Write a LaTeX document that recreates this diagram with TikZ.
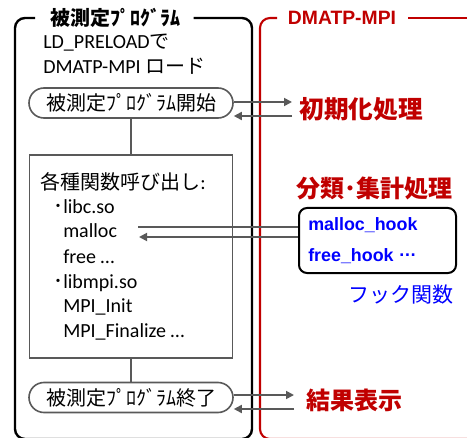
\documentclass[tikz,border=0pt]{standalone}
\usepackage{fontspec}
\setmainfont{Carlito}
\newfontfamily\jp{Noto Sans CJK JP}
\newfontfamily\lat{Liberation Sans}
\usetikzlibrary{arrows.meta,shapes.misc}
\definecolor{dred}{HTML}{C00000}
\definecolor{gline}{HTML}{595959}
\definecolor{hblue}{HTML}{0000FF}
\begin{document}
\begin{tikzpicture}[x=0.75pt,y=-0.75pt,
  frame/.style={line width=1.8pt, rounded corners=7.5pt},
  redframe/.style={dred, line width=1.6pt, rounded corners=7.5pt},
  conn/.style={gline, line width=1.3pt},
  arr/.style={conn, -{Triangle[length=6pt,width=6pt]}},
  stadium/.style={rounded rectangle, draw=gline, line width=1.2pt, minimum width=204*0.75pt, minimum height=30*0.75pt, inner sep=0pt, font=\jp\fontsize{15}{18}\selectfont},
  txt/.style={inner sep=0pt, anchor=base west, font=\fontsize{15}{18}\selectfont},
  redlab/.style={inner sep=0pt, text=dred, font=\jp\bfseries\fontsize{18}{20}\selectfont},
  bluetxt/.style={inner sep=0pt, anchor=base west, text=hblue, font=\lat\bfseries\fontsize{13.4}{16}\selectfont}
]
\useasboundingbox (0,0) rectangle (467,438);
\clip (0,0) rectangle (467,438);

% titles and frames
\node[inner sep=0pt, font=\jp\bfseries\fontsize{15}{18}\selectfont] (t1) at (115,18) {被測定ﾌﾟﾛｸﾞﾗﾑ};
\draw[frame] ([xshift=-11pt]t1.west) -- (15,18) -- (15,439) -- (252,439) -- (252,18) -- ([xshift=10pt]t1.east);
\node[inner sep=0pt, text=dred, font=\lat\bfseries\fontsize{14.5}{16}\selectfont] (t2) at (342,18) {DMATP-MPI};
\draw[redframe] ([xshift=-8pt]t2.west) -- (260,18) -- (260,439) -- (480,439);
\draw[redframe] ([xshift=9pt]t2.east) -- (470,18);

% left texts
\node[txt] (l1) at (43,49) {LD\_PRELOAD{\jp で}};
\node[txt] (l2) at (43,74) {DMATP-MPI {\jp ロード}};

% start / end
\node[stadium] (s) at (131,103) {被測定ﾌﾟﾛｸﾞﾗﾑ開始};
\node[draw=gline, line width=1.2pt, minimum width=203*0.75pt, minimum height=203*0.75pt, inner sep=0pt] (box) at (131,256.5) {};
\node[stadium] (e) at (131,397.5) {被測定ﾌﾟﾛｸﾞﾗﾑ終了};
\draw[conn] (s.south) -- (box.north);
\draw[conn] (box.south) -- (e.north);

% box content
\node[txt] (b1) at (40,190) {{\jp 各種関数呼び出し}:};
\node[txt] (b2) at (53,214) {{\jp ･}libc.so};
\node[txt] (b3) at (63,238) {malloc};
\node[txt] (b4) at (63,263) {free …};
\node[txt] (b5) at (53,288) {{\jp ･}libmpi.so};
\node[txt] (b6) at (63,312) {MPI\_Init};
\node[txt] (b7) at (63,337) {MPI\_Finalize …};

% right side
\node[redlab, font=\jp\bfseries\fontsize{18.5}{20}\selectfont] (init) at (361,109) {初期化処理};
\node[redlab] (agg) at (374,188) {分類･集計処理};
\node[redlab] (res) at (354,400) {結果表示};

\node[draw=black, line width=1.5pt, rounded corners=6pt, minimum width=157*0.75pt, minimum height=65*0.75pt, inner sep=0pt] (hook) at (377.5,240.5) {};
\node[bluetxt] (h1) at (308,230) {malloc\_hook};
\node[bluetxt] (h2) at (308,262) {free\_hook \raisebox{0.28em}{…}};
\node[inner sep=0pt, text=hblue, font=\jp\fontsize{15.75}{18}\selectfont] (hk) at (401,295) {フック関数};

% arrows
\coordinate (a1) at (292,102);
\coordinate (a2) at (292,116);
\draw[arr] (s.east |- a1) -- (a1);
\draw[arr] (a2) -- (s.east |- a2);

\coordinate (m1) at (138,227);
\coordinate (m2) at (139,237);
\draw[conn] (m1) -- (hook.west |- m1);
\draw[arr] (hook.west |- m2) -- (m2);

\coordinate (c1) at (294,395);
\coordinate (c2) at (294,409);
\draw[arr] (e.east |- c1) -- (c1);
\draw[arr] (c2) -- (e.east |- c2);
\end{tikzpicture}
\end{document}
